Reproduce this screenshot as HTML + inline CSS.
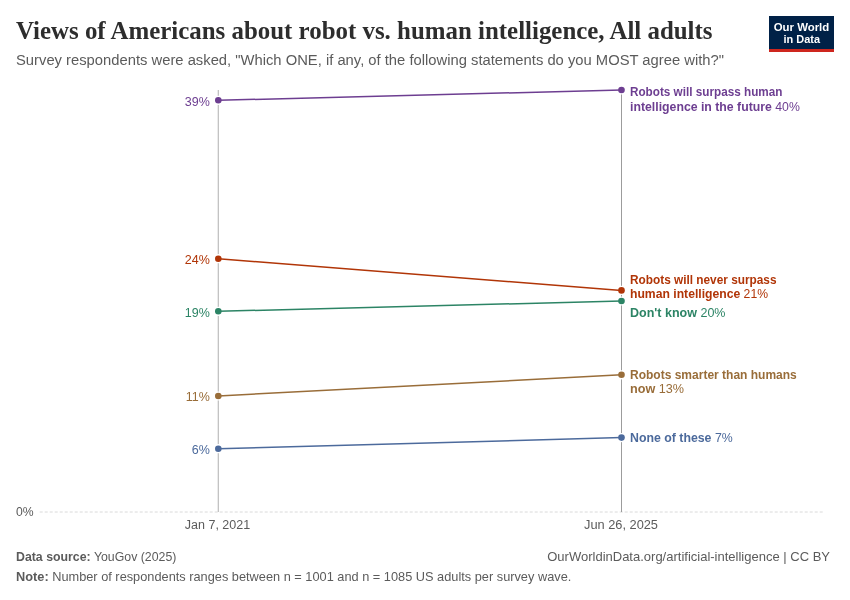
<!DOCTYPE html>
<html><head><meta charset="utf-8">
<style>
html,body{margin:0;padding:0;background:#fff;width:850px;height:600px;overflow:hidden}
svg{display:block;will-change:transform}
text{font-family:"Liberation Sans",sans-serif}
.t{font-family:"Liberation Serif",serif;font-weight:700}
</style></head><body>
<svg width="850" height="600" viewBox="0 0 850 600">
<rect width="850" height="600" fill="#fff"/>
<!-- title -->
<text class="t" x="16" y="39" font-size="25" fill="#2d2d2d" textLength="696.5" lengthAdjust="spacingAndGlyphs">Views of Americans about robot vs. human intelligence, All adults</text>
<text x="16" y="64.5" font-size="14.75" fill="#5b5b5b" textLength="708" lengthAdjust="spacingAndGlyphs">Survey respondents were asked, "Which ONE, if any, of the following statements do you MOST agree with?"</text>
<!-- logo -->
<rect x="769" y="16" width="65" height="33" fill="#002147"/>
<rect x="769" y="49" width="65" height="3" fill="#ce261e"/>
<text x="801.5" y="30.7" font-size="11.75" font-weight="700" fill="#fff" text-anchor="middle" textLength="55.5" lengthAdjust="spacingAndGlyphs">Our World</text>
<text x="801.8" y="42.5" font-size="11.75" font-weight="700" fill="#fff" text-anchor="middle" textLength="36.5" lengthAdjust="spacingAndGlyphs">in Data</text>
<!-- grid zero line -->
<line x1="39.7" y1="512" x2="823" y2="512" stroke="#dadada" stroke-width="1" stroke-dasharray="3,2"/>
<text x="16" y="516.2" font-size="12.2" fill="#5b5b5b">0%</text>
<!-- vertical lines -->
<line x1="218.3" y1="90" x2="218.3" y2="512" stroke="#bdbdbd" stroke-width="1.2"/>
<line x1="621.5" y1="90" x2="621.5" y2="512" stroke="#9c9c9c" stroke-width="1"/>
<!-- x labels -->
<text x="217.5" y="528.8" font-size="12.5" fill="#5b5b5b" text-anchor="middle">Jan 7, 2021</text>
<text x="621" y="528.8" font-size="12.8" fill="#5b5b5b" text-anchor="middle">Jun 26, 2025</text>
<!-- series -->
<g fill="#fff"><circle cx="218.3" cy="100.3" r="4.6"/><circle cx="621.5" cy="90" r="4.6"/><circle cx="218.3" cy="258.7" r="4.6"/><circle cx="621.5" cy="290.4" r="4.6"/><circle cx="218.3" cy="311.3" r="4.6"/><circle cx="621.5" cy="301" r="4.6"/><circle cx="218.3" cy="396" r="4.6"/><circle cx="621.5" cy="374.8" r="4.6"/><circle cx="218.3" cy="448.7" r="4.6"/><circle cx="621.5" cy="437.6" r="4.6"/></g>
<g stroke-width="1.5" fill="none">
<line x1="218.3" y1="100.3" x2="621.5" y2="90" stroke="#6d3e91"/>
<line x1="218.3" y1="258.7" x2="621.5" y2="290.4" stroke="#b13507"/>
<line x1="218.3" y1="311.3" x2="621.5" y2="301" stroke="#2c8465"/>
<line x1="218.3" y1="396" x2="621.5" y2="374.8" stroke="#996d39"/>
<line x1="218.3" y1="448.7" x2="621.5" y2="437.6" stroke="#4c6a9c"/>
</g>
<g>
<circle cx="218.3" cy="100.3" r="3.3" fill="#6d3e91"/>
<circle cx="621.5" cy="90" r="3.3" fill="#6d3e91"/>
<circle cx="218.3" cy="258.7" r="3.3" fill="#b13507"/>
<circle cx="621.5" cy="290.4" r="3.3" fill="#b13507"/>
<circle cx="218.3" cy="311.3" r="3.3" fill="#2c8465"/>
<circle cx="621.5" cy="301" r="3.3" fill="#2c8465"/>
<circle cx="218.3" cy="396" r="3.3" fill="#996d39"/>
<circle cx="621.5" cy="374.8" r="3.3" fill="#996d39"/>
<circle cx="218.3" cy="448.7" r="3.3" fill="#4c6a9c"/>
<circle cx="621.5" cy="437.6" r="3.3" fill="#4c6a9c"/>
</g>
<!-- left labels -->
<g font-size="12.5" text-anchor="end">
<text x="209.8" y="105.6" fill="#6d3e91">39%</text>
<text x="209.8" y="264" fill="#b13507">24%</text>
<text x="209.8" y="316.6" fill="#2c8465">19%</text>
<text x="209.8" y="401.3" fill="#996d39">11%</text>
<text x="209.8" y="454" fill="#4c6a9c">6%</text>
</g>
<!-- right labels -->
<g font-size="12">
<text x="630" y="95.5" fill="#6d3e91" font-weight="700" textLength="152.4" lengthAdjust="spacingAndGlyphs">Robots will surpass human</text>
<text x="630" y="110.5" fill="#6d3e91" textLength="169.85" lengthAdjust="spacingAndGlyphs"><tspan font-weight="700">intelligence in the future</tspan> 40%</text>
<text x="630" y="284" fill="#b13507" font-weight="700" textLength="146.5" lengthAdjust="spacingAndGlyphs">Robots will never surpass</text>
<text x="630" y="298.2" fill="#b13507" textLength="138" lengthAdjust="spacingAndGlyphs"><tspan font-weight="700">human intelligence</tspan> 21%</text>
<text x="630" y="316.5" fill="#2c8465" textLength="95.5" lengthAdjust="spacingAndGlyphs"><tspan font-weight="700">Don't know</tspan> 20%</text>
<text x="630" y="379.3" fill="#996d39" font-weight="700" textLength="166.8" lengthAdjust="spacingAndGlyphs">Robots smarter than humans</text>
<text x="630" y="393.4" fill="#996d39" textLength="54" lengthAdjust="spacingAndGlyphs"><tspan font-weight="700">now</tspan> 13%</text>
<text x="630" y="442.4" fill="#4c6a9c" textLength="102.7" lengthAdjust="spacingAndGlyphs"><tspan font-weight="700">None of these</tspan> 7%</text>
</g>
<!-- footer -->
<text x="16" y="560.7" font-size="13" fill="#5b5b5b" textLength="160.4" lengthAdjust="spacingAndGlyphs"><tspan font-weight="700">Data source:</tspan> YouGov (2025)</text>
<text x="830" y="560.7" font-size="13" fill="#5b5b5b" text-anchor="end">OurWorldinData.org/artificial-intelligence | CC BY</text>
<text x="16" y="580.7" font-size="12.8" fill="#5b5b5b" textLength="555.3" lengthAdjust="spacingAndGlyphs"><tspan font-weight="700">Note:</tspan> Number of respondents ranges between n = 1001 and n = 1085 US adults per survey wave.</text>
</svg>
</body></html>
